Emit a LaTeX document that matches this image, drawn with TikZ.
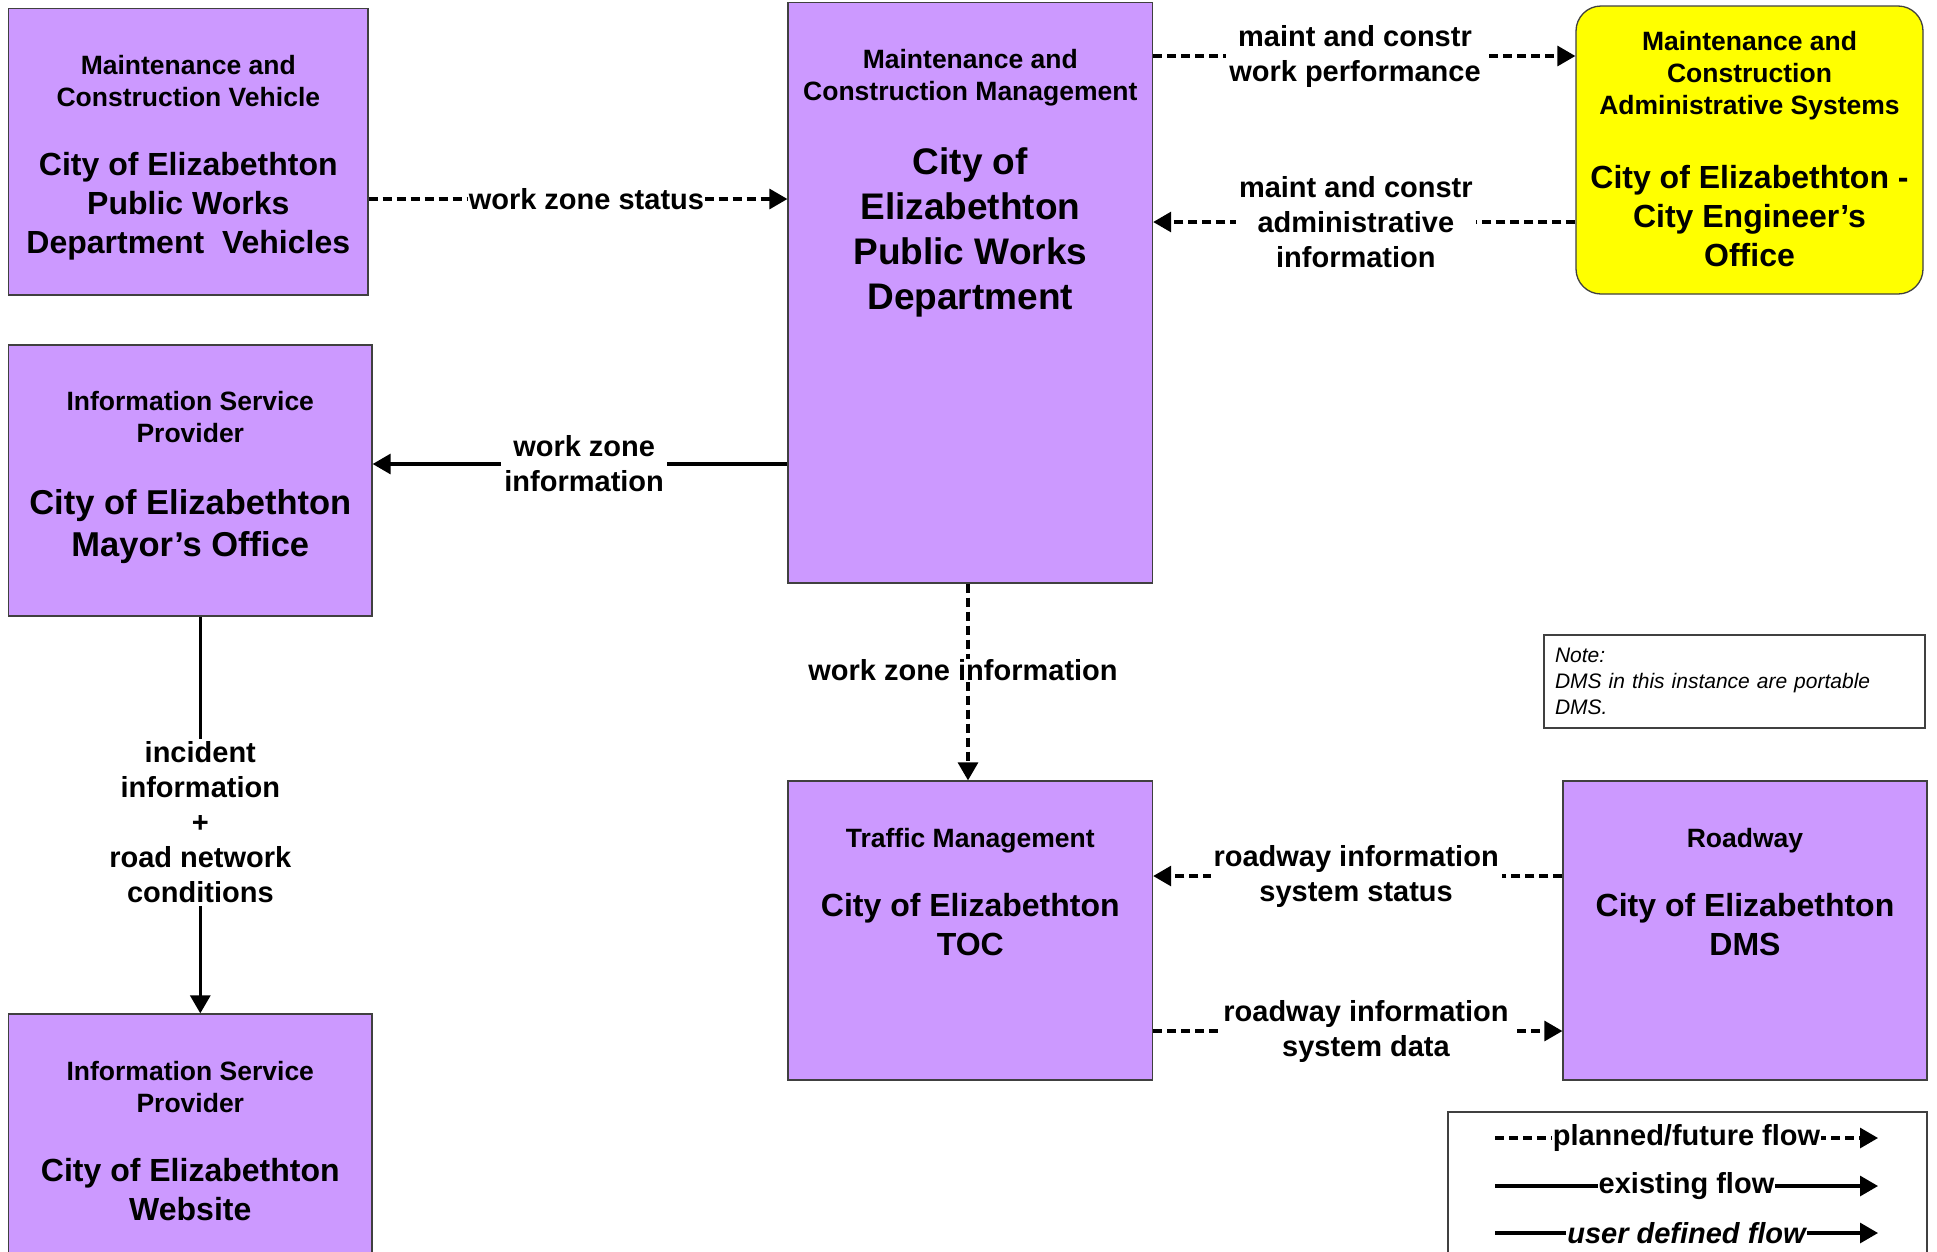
\documentclass[tikz,border=0pt]{standalone}
\usepackage{fontspec}
\setmainfont{Liberation Sans}
\usepackage{tikz}
\usetikzlibrary{arrows.meta,positioning,calc}
\definecolor{lavender}{HTML}{CC99FF}
\definecolor{canary}{HTML}{FFFF00}
\definecolor{edgegray}{HTML}{404040}
\tikzset{
  entity/.style={
    rectangle, draw=edgegray, fill=#1, line width=1.3pt,
    inner sep=0pt
  },
  entity/.default=lavender,
  hdr/.style={
    font=\fontsize{26.5}{32}\selectfont\bfseries, align=center,
    inner sep=0pt
  },
  bigname/.style={
    font=\fontsize{32}{39}\selectfont\bfseries, align=center,
    inner sep=0pt
  },
  midname/.style={
    font=\fontsize{34.5}{42}\selectfont\bfseries, align=center,
    inner sep=0pt
  },
  hugename/.style={
    font=\fontsize{37}{44.7}\selectfont\bfseries, align=center,
    inner sep=0pt
  },
  flowlabel/.style={
    font=\fontsize{29}{35}\selectfont\bfseries, align=center,
    fill=white, inner sep=3pt
  },
  existflow/.style={
    line width=3.1pt, -{Triangle[length=18pt,width=20pt]}
  },
  planflow/.style={
    existflow, dash pattern=on 9pt off 5pt
  },
  notebox/.style={
    rectangle, draw=edgegray, line width=1.1pt, fill=white,
    font=\fontsize{21}{26}\selectfont\itshape, align=left,
    text width=359pt, minimum height=93pt, inner sep=11pt
  },
}

\begin{document}
\begin{tikzpicture}[x=1pt, y=1pt]
  \useasboundingbox (0,0) rectangle (1937,-1251);
  \clip (0,0) rectangle (1937,-1251);

  % Entities
  \node[entity, minimum width=359.4pt, minimum height=286.4pt] (mcv) at (188.3,-151.8) {};
  \node[entity, minimum width=364.5pt, minimum height=580.5pt] (mcm) at (970.3,-292.8) {};
  \node[entity=canary, rounded corners=25pt, minimum width=347pt, minimum height=288pt] (mcas) at (1749.5,-150) {};
  \node[entity, minimum width=363.4pt, minimum height=271pt] (mayor) at (190.3,-480.5) {};
  \node[entity, minimum width=363.4pt, minimum height=300pt] (web) at (190.3,-1164) {};
  \node[entity, minimum width=364.5pt, minimum height=299pt] (toc) at (970.3,-930.5) {};
  \node[entity, minimum width=364pt, minimum height=299pt] (dms) at (1745,-930.5) {};

  % Entity texts
  \node[hdr, below=47pt of mcv.north] (mcv-h) {Maintenance and\\Construction Vehicle};
  \node[bigname, below=144pt of mcv.north] (mcv-n) {City of Elizabethton\\Public Works\\Department~ Vehicles};

  \node[hdr, below=47pt of mcm.north] (mcm-h) {Maintenance and\\Construction Management};
  \node[hugename, below=146pt of mcm.north] (mcm-n) {City of\\Elizabethton\\Public Works\\Department};

  \node[hdr, below=25.5pt of mcas.north] (mcas-h) {Maintenance and\\Construction\\Administrative Systems};
  \node[bigname, below=159.5pt of mcas.north] (mcas-n) {City of Elizabethton -\\City Engineer’s\\Office};

  \node[hdr, below=46.5pt of mayor.north] (mayor-h) {Information Service\\Provider};
  \node[midname, below=144.6pt of mayor.north] (mayor-n) {City of Elizabethton\\Mayor’s Office};

  \node[hdr, below=47.5pt of web.north] (web-h) {Information Service\\Provider};
  \node[bigname, below=145pt of web.north] (web-n) {City of Elizabethton\\Website};

  \node[hdr, below=47.5pt of toc.north] (toc-h) {Traffic Management};
  \node[bigname, below=112.5pt of toc.north] (toc-n) {City of Elizabethton\\TOC};

  \node[hdr, below=47.5pt of dms.north] (dms-h) {Roadway};
  \node[bigname, below=112.5pt of dms.north] (dms-n) {City of Elizabethton\\DMS};

  % Note
  \node[notebox] (note) at (1734.5,-681.5) {Note:\\DMS in this instance are portable\\DMS.};

  % Flows
  \draw[planflow] ([yshift=-47.2pt]mcv.east) coordinate (wzs0) -- (wzs0 -| mcm.west)
    node[flowlabel, pos=0.52, inner sep=1pt] (wzs) {work zone status};

  \coordinate (wp0) at ([yshift=94pt]mcas.west);
  \draw[planflow] (wp0 -| mcm.east) -- (wp0)
    node[flowlabel, pos=0.478] (wp) {maint and constr\\work performance};

  \draw[planflow] ([yshift=-72pt]mcas.west) coordinate (ai0) -- (ai0 -| mcm.east)
    node[flowlabel, pos=0.52] (ai) {maint and constr\\administrative\\information};

  \coordinate (wzi0) at ([yshift=16.5pt]mayor.east);
  \draw[existflow] (wzi0 -| mcm.west) -- (wzi0)
    node[flowlabel, pos=0.49] (wzi) {work zone\\information};

  \draw[planflow] ([xshift=-2.3pt]mcm.south) coordinate (wzv0) -- (wzv0 |- toc.north)
    node[flowlabel, pos=0.44, xshift=-5pt, inner sep=1pt] (wzv) {work zone information};

  \draw[existflow] ([xshift=10pt]mayor.south) coordinate (ii0) -- (ii0 |- web.north)
    node[flowlabel, pos=0.518] (ii) {incident\\information\\+\\road network\\conditions};

  \draw[planflow] ([yshift=54.5pt]dms.west) coordinate (rs0) -- (rs0 -| toc.east)
    node[flowlabel, pos=0.504] (rs) {roadway information\\system status};

  \draw[planflow] ([yshift=-100.5pt]toc.east) coordinate (rd0) -- (rd0 -| dms.west)
    node[flowlabel, pos=0.52] (rd) {roadway information\\system data};

  % Legend
  \node[rectangle, draw=edgegray, line width=1.1pt, minimum width=479pt, minimum height=200pt] (lgd) at (1687.5,-1212) {};
  \coordinate (lgA1) at (1495,-1138);
  \coordinate (lgB1) at (1878,-1138);
  \coordinate (lgA2) at (1495,-1186);
  \coordinate (lgB2) at (1878,-1186);
  \coordinate (lgA3) at (1495,-1233);
  \coordinate (lgB3) at (1878,-1233);
  \draw[planflow] (lgA1) -- (lgB1) node[flowlabel, pos=0.5, inner sep=1pt] (lg1) {planned/future flow};
  \draw[existflow] (lgA2) -- (lgB2) node[flowlabel, pos=0.5, inner sep=1pt] (lg2) {existing flow};
  \draw[existflow] (lgA3) -- (lgB3) node[flowlabel, pos=0.5, inner sep=1pt] (lg3) {\itshape user defined flow};
\end{tikzpicture}
\end{document}
